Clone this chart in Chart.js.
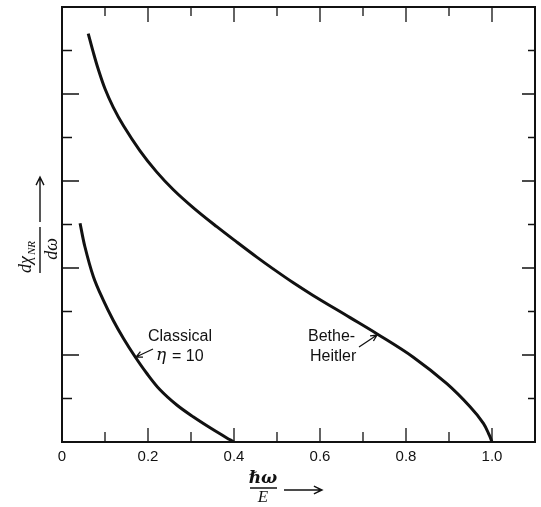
<!DOCTYPE html>
<html>
<head>
<meta charset="utf-8">
<script src="https://cdn.jsdelivr.net/npm/chart.js@4.4.0/dist/chart.umd.min.js"></script>
<style>
    body { margin: 0; background: #fff; }
    canvas { display: block; }
</style>
</head>
<body>
<canvas id="spectrum" width="541" height="507"></canvas>
<script>
// values (x = hbar*omega/E, y = arbitrary units)
var betheX = [0.061, 0.073, 0.084, 0.100, 0.119, 0.143, 0.181, 0.220, 0.259, 0.305, 0.360, 0.406, 0.453, 0.491, 0.538, 0.584, 0.670, 0.732, 0.817, 0.895, 0.949, 0.980, 0.994, 1.0];
var betheY = [9.39, 8.95, 8.58, 8.12, 7.70, 7.27, 6.70, 6.21, 5.80, 5.39, 4.95, 4.60, 4.25, 3.98, 3.66, 3.37, 2.86, 2.49, 1.95, 1.34, 0.81, 0.43, 0.15, 0];
var classicalX = [0.042, 0.053, 0.073, 0.096, 0.119, 0.143, 0.170, 0.197, 0.228, 0.267, 0.305, 0.352, 0.391, 0.4];
var classicalY = [5.03, 4.50, 3.80, 3.26, 2.80, 2.38, 1.96, 1.58, 1.20, 0.85, 0.58, 0.28, 0.05, 0];

var xTicks = [0.1, 0.2, 0.3, 0.4, 0.5, 0.6, 0.7, 0.8, 0.9, 1.0];
var xTickLabels = ['0', '0.2', '0.4', '0.6', '0.8', '1.0'];
var xLabelValues = [0, 0.2, 0.4, 0.6, 0.8, 1.0];
var yTicks = [1, 2, 3, 4, 5, 6, 7, 8, 9];

var ink = '#111';

function toPoints(xs, ys) {
    var pts = [];
    for (var i = 0; i < xs.length; i++) pts.push({ x: xs[i], y: ys[i] });
    return pts;
}

function arrow(ctx, x1, y1, x2, y2, head) {
    var a = Math.atan2(y2 - y1, x2 - x1);
    ctx.beginPath();
    ctx.moveTo(x1, y1);
    ctx.lineTo(x2, y2);
    ctx.moveTo(x2 - head * Math.cos(a - 0.45), y2 - head * Math.sin(a - 0.45));
    ctx.lineTo(x2, y2);
    ctx.lineTo(x2 - head * Math.cos(a + 0.45), y2 - head * Math.sin(a + 0.45));
    ctx.stroke();
}

// frame, inward ticks, tick labels and the hand-lettered annotations
var framePlugin = {
    id: 'frame',
    afterDraw: function (chart) {
        var ctx = chart.ctx;
        var xs = chart.scales.x, ys = chart.scales.y;
        var a = chart.chartArea;
        ctx.save();
        ctx.strokeStyle = ink;
        ctx.fillStyle = ink;
        ctx.lineWidth = 2;
        ctx.strokeRect(a.left, a.top, a.right - a.left, a.bottom - a.top);

        ctx.lineWidth = 1.3;
        ctx.beginPath();
        xTicks.forEach(function (v, i) {
            var px = xs.getPixelForValue(v);
            var major = (i % 2 === 1);
            ctx.moveTo(px, a.bottom);
            ctx.lineTo(px, a.bottom - (major ? 14 : 10));
            ctx.moveTo(px, a.top);
            ctx.lineTo(px, a.top + (major ? 15 : 9));
        });
        yTicks.forEach(function (v) {
            var py = ys.getPixelForValue(v);
            var major = (v % 2 === 0);
            ctx.moveTo(a.left, py);
            ctx.lineTo(a.left + (major ? 17 : 10), py);
            ctx.moveTo(a.right, py);
            ctx.lineTo(a.right - (major ? 13 : 7), py);
        });
        ctx.stroke();

        ctx.font = '15px "Liberation Sans", Arial, sans-serif';
        ctx.textAlign = 'center';
        ctx.textBaseline = 'middle';
        xLabelValues.forEach(function (v, i) {
            ctx.fillText(xTickLabels[i], xs.getPixelForValue(v), 457);
        });

        // x title: hbar omega / E  -->
        ctx.font = 'bold italic 17px "DejaVu Serif", serif';
        ctx.fillText('\u210F\u03C9', 263, 479);
        ctx.lineWidth = 1.5;
        ctx.beginPath();
        ctx.moveTo(250, 488);
        ctx.lineTo(277, 488);
        ctx.stroke();
        ctx.font = 'italic 17px "Liberation Serif", serif';
        ctx.fillText('E', 263, 498);
        ctx.lineWidth = 1.4;
        arrow(ctx, 284, 490, 322, 490, 9);

        // y title: d chi_NR / d omega, rotated, with arrow
        ctx.save();
        ctx.translate(41, 250);
        ctx.rotate(-Math.PI / 2);
        ctx.textAlign = 'left';
        ctx.font = 'italic 18px "Liberation Serif", serif';
        ctx.fillText('d\u03C7', -23, -15);
        var w = ctx.measureText('d\u03C7').width;
        ctx.font = 'italic 11px "Liberation Serif", serif';
        ctx.fillText('NR', -22 + w, -9);
        ctx.beginPath();
        ctx.moveTo(-23, -1);
        ctx.lineTo(23, -1);
        ctx.stroke();
        ctx.textAlign = 'center';
        ctx.font = 'italic 18px "Liberation Serif", serif';
        ctx.fillText('d\u03C9', 1, 11);
        arrow(ctx, 28, -1, 73, -1, 9);
        ctx.restore();

        // curve labels
        ctx.font = '16px "Liberation Sans", Arial, sans-serif';
        ctx.textAlign = 'left';
        ctx.fillText('Classical', 148, 337);
        ctx.font = 'italic 17px "DejaVu Serif", serif';
        ctx.fillText('\u03B7', 156, 356);
        ctx.font = '16px "Liberation Sans", Arial, sans-serif';
        ctx.fillText('= 10', 172, 357);
        ctx.fillText('Bethe-', 308, 337);
        ctx.fillText('Heitler', 310, 357);
        ctx.lineWidth = 1.3;
        arrow(ctx, 153, 349, 136, 357, 7);
        arrow(ctx, 359, 347, 377, 335, 7);
        ctx.restore();
    }
};

var chart = new Chart(document.getElementById('spectrum').getContext('2d'), {
    type: 'line',
    data: {
        datasets: [{
            label: 'Bethe-Heitler',
            data: toPoints(betheX, betheY),
            borderColor: ink,
            borderWidth: 3,
            pointRadius: 0,
            tension: 0.35,
            fill: false
        }, {
            label: 'Classical eta = 10',
            data: toPoints(classicalX, classicalY),
            borderColor: ink,
            borderWidth: 3,
            pointRadius: 0,
            tension: 0.35,
            fill: false
        }]
    },
    options: {
        responsive: false,
        animation: false,
        layout: { padding: { left: 62, top: 7, right: 6, bottom: 65 } },
        plugins: { legend: { display: false }, tooltip: { enabled: false } },
        scales: {
            x: { type: 'linear', min: 0, max: 1.1, display: false },
            y: { type: 'linear', min: 0, max: 10, display: false }
        }
    },
    plugins: [framePlugin]
});
</script>
</body>
</html>
